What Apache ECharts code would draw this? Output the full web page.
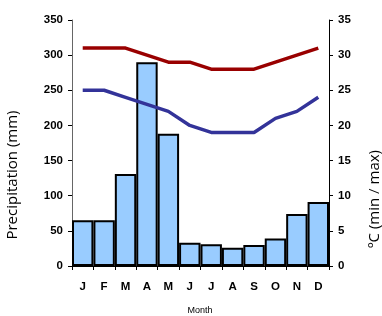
<!DOCTYPE html>
<html><head><meta charset="utf-8">
<script src="https://cdn.jsdelivr.net/npm/echarts@6/dist/echarts.min.js"></script>
<style>html,body{margin:0;padding:0;background:#fff}#c{width:382px;height:316px}</style>
</head><body><div id="c"></div>
<script>
const months = ['J','F','M','A','M','J','J','A','S','O','N','D'];
const precipitation = [65, 65, 131, 290, 188, 33, 31, 26, 30, 39, 74, 91];
const tempMax = [31, 31, 31, 30, 29, 29, 28, 28, 28, 29, 30, 31];
const tempMin = [25, 25, 24, 23, 22, 20, 19, 19, 19, 21, 22, 24];
const leftTicks = [0, 350, 50];
const rightTicks = [0, 35, 5];

const chart = echarts.init(document.getElementById('c'), null, {renderer: 'canvas'});
const tickFont = {fontFamily: 'Liberation Sans', fontWeight: 'bold', fontSize: 11.5, color: '#000'};
chart.setOption({
  animation: false,
  grid: {left: 72, right: 53, top: 20, bottom: 50},
  xAxis: {
    type: 'category', data: months,
    axisLine: {lineStyle: {color: '#000', width: 1}},
    axisTick: {show: true, length: 4, lineStyle: {color: '#000'}},
    axisLabel: Object.assign({margin: 15}, tickFont)
  },
  yAxis: [{
    type: 'value', min: leftTicks[0], max: leftTicks[1], interval: leftTicks[2],
    axisLine: {show: true, lineStyle: {color: '#666', width: 1}},
    axisTick: {show: true, length: 4, lineStyle: {color: '#000'}},
    splitLine: {show: false},
    axisLabel: Object.assign({margin: 9}, tickFont)
  }, {
    type: 'value', min: rightTicks[0], max: rightTicks[1], interval: rightTicks[2],
    position: 'right',
    axisLine: {show: true, lineStyle: {color: '#000', width: 1}},
    axisTick: {show: true, length: 4, lineStyle: {color: '#000'}},
    splitLine: {show: false},
    axisLabel: Object.assign({margin: 9}, tickFont)
  }],
  series: [{
    type: 'bar', data: precipitation, yAxisIndex: 0,
    barCategoryGap: '0%',
    itemStyle: {color: '#99CCFF', borderColor: '#000', borderWidth: 2}
  }, {
    type: 'line', data: tempMax, yAxisIndex: 1, symbol: 'none',
    lineStyle: {color: '#990000', width: 3.5}
  }, {
    type: 'line', data: tempMin, yAxisIndex: 1, symbol: 'none',
    lineStyle: {color: '#333399', width: 3.5}
  }],
  graphic: [{
    type: 'text', x: 13, y: 175, rotation: Math.PI / 2,
    style: {text: 'Precipitation (mm)', font: '15px "Open Sans"', fill: '#000', align: 'center', verticalAlign: 'middle'}
  }, {
    type: 'text', x: 375, y: 199, rotation: Math.PI / 2,
    style: {text: 'ºC (min / max)', font: '15px "Open Sans"', fill: '#000', align: 'center', verticalAlign: 'middle'}
  }, {
    type: 'text', x: 200, y: 311,
    style: {text: 'Month', font: '9px "Liberation Sans"', fill: '#000', align: 'center', verticalAlign: 'middle'}
  }]
});
</script></body></html>
